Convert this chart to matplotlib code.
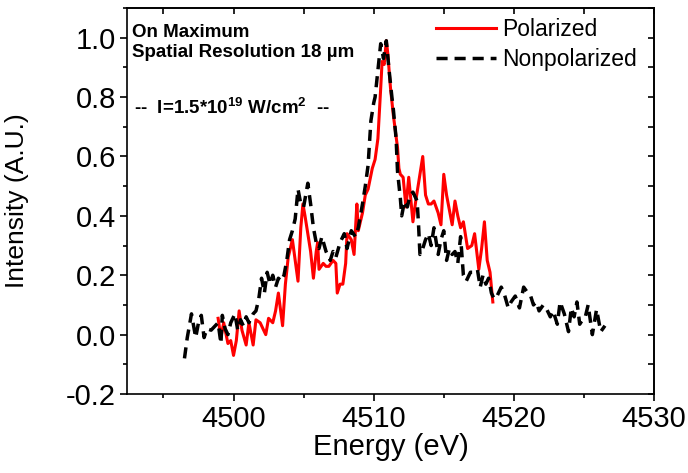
import matplotlib
matplotlib.use("Agg")
import matplotlib.pyplot as plt
from matplotlib.ticker import MultipleLocator

plt.rcParams["font.family"] = ["Liberation Sans", "DejaVu Sans"]
plt.rcParams["mathtext.fontset"] = "custom"
plt.rcParams["mathtext.rm"] = "Liberation Sans:bold"
plt.rcParams["mathtext.default"] = "rm"

# Nonpolarized spectrum (energy in eV, normalized intensity)
nonpol_energy = [
    4496.5, 4496.7, 4497.0, 4497.3, 4497.5, 4497.7, 4497.9, 4498.1, 4498.4, 4498.7,
    4498.9, 4499.1, 4499.2, 4499.4, 4499.6, 4499.8, 4500.1, 4500.3, 4500.5, 4500.7,
    4500.9, 4501.1, 4501.4, 4501.6, 4501.8, 4502.0, 4502.2, 4502.4, 4502.6, 4502.8,
    4503.0, 4503.2, 4503.4, 4503.6, 4503.8, 4504.0, 4504.2, 4504.4, 4504.6, 4504.8,
    4505.0, 4505.3, 4505.5, 4505.7, 4505.9, 4506.1, 4506.3, 4506.6, 4506.9, 4507.1,
    4507.3, 4507.6, 4507.9, 4508.1, 4508.4, 4508.7, 4508.9, 4509.2, 4509.4, 4509.6,
    4509.8, 4510.0, 4510.1, 4510.3, 4510.5, 4510.7, 4510.9, 4511.1, 4511.3, 4511.4,
    4511.6, 4511.7, 4511.9, 4512.0, 4512.2, 4512.4, 4512.6, 4512.8, 4513.0, 4513.1,
    4513.2, 4513.3, 4513.5, 4513.7, 4513.9, 4514.1, 4514.3, 4514.5, 4514.6, 4514.8,
    4515.0, 4515.2, 4515.4, 4515.6, 4515.8, 4516.0, 4516.2, 4516.4, 4516.6, 4516.9,
    4517.1, 4517.4, 4517.6, 4517.8, 4518.0, 4518.2, 4518.4, 4518.6, 4518.8, 4519.1,
    4519.3, 4519.6, 4519.8, 4520.1, 4520.4, 4520.7, 4521.0, 4521.2, 4521.4, 4521.6,
    4521.8, 4522.1, 4522.3, 4522.6, 4522.8, 4523.1, 4523.3, 4523.6, 4523.9, 4524.1,
    4524.3, 4524.5, 4524.7, 4524.9, 4525.1, 4525.3, 4525.6, 4525.9, 4526.2, 4526.5,
]
nonpol_intensity = [
    -0.08, -0.01, 0.07, -0.01, 0.04, 0.065, -0.01, 0.02, 0.015, 0.03,
    0.04, -0.03, 0.065, 0.02, 0.0, 0.04, 0.07, 0.015, 0.05, 0.03,
    0.06, 0.04, 0.07, 0.08, 0.12, 0.19, 0.14, 0.21, 0.17, 0.20,
    0.16, 0.19, 0.18, 0.20, 0.25, 0.32, 0.35, 0.39, 0.49, 0.44,
    0.43, 0.51, 0.44, 0.36, 0.31, 0.29, 0.33, 0.28, 0.25, 0.28,
    0.26, 0.31, 0.34, 0.29, 0.35, 0.33, 0.36, 0.44, 0.50, 0.57,
    0.72, 0.78, 0.80, 0.89, 0.98, 0.93, 0.99, 0.89, 0.80, 0.76,
    0.66, 0.55, 0.46, 0.40, 0.45, 0.43, 0.47, 0.48, 0.46, 0.45,
    0.37, 0.27, 0.29, 0.32, 0.34, 0.30, 0.36, 0.30, 0.27, 0.32,
    0.35, 0.25, 0.29, 0.27, 0.28, 0.24, 0.33, 0.20, 0.18, 0.21,
    0.21, 0.22, 0.16, 0.20, 0.17, 0.19, 0.14, 0.12, 0.13, 0.16,
    0.14, 0.09, 0.11, 0.13, 0.09, 0.16, 0.14, 0.13, 0.10, 0.11,
    0.08, 0.10, 0.09, 0.06, 0.08, 0.035, 0.11, 0.07, 0.01, 0.09,
    0.06, 0.11, 0.035, 0.05, 0.06, 0.10, 0.00, 0.085, 0.01, 0.03,
]

# Polarized spectrum
pol_energy = [
    4498.9, 4499.1, 4499.3, 4499.6, 4499.8, 4500.0, 4500.2, 4500.4, 4500.6, 4500.9,
    4501.1, 4501.4, 4501.6, 4501.9, 4502.1, 4502.3, 4502.5, 4502.8, 4503.0, 4503.2,
    4503.5, 4503.7, 4503.9, 4504.2, 4504.4, 4504.6, 4504.8, 4504.95, 4505.1, 4505.3,
    4505.5, 4505.7, 4505.9, 4506.0, 4506.1, 4506.4, 4506.6, 4506.8, 4507.1, 4507.3,
    4507.4, 4507.6, 4507.8, 4508.0, 4508.1, 4508.4, 4508.6, 4508.8, 4508.9, 4509.2,
    4509.4, 4509.6, 4509.9, 4510.1, 4510.3, 4510.5, 4510.6, 4510.75, 4510.9, 4511.0,
    4511.2, 4511.4, 4511.7, 4511.8, 4511.9, 4512.1, 4512.3, 4512.5, 4512.8, 4513.0,
    4513.2, 4513.5, 4513.7, 4513.9, 4514.1, 4514.3, 4514.6, 4514.8, 4515.0, 4515.2,
    4515.4, 4515.6, 4515.8, 4516.0, 4516.2, 4516.4, 4516.7, 4517.0, 4517.2, 4517.5,
    4517.7, 4517.9, 4518.1, 4518.3, 4518.5,
]
pol_intensity = [
    0.055, -0.01, 0.04, -0.03, -0.02, -0.07, -0.02, 0.08, 0.015, -0.035,
    0.04, -0.035, 0.05, 0.04, 0.02, 0.0, 0.055, 0.04, 0.08, 0.14,
    0.03, 0.17, 0.26, 0.32, 0.25, 0.18, 0.36, 0.44, 0.40, 0.34,
    0.28, 0.19, 0.28, 0.31, 0.22, 0.24, 0.23, 0.23, 0.25, 0.24,
    0.14, 0.17, 0.17, 0.24, 0.34, 0.32, 0.27, 0.44, 0.35, 0.41,
    0.47, 0.49, 0.56, 0.59, 0.66, 0.83, 0.92, 0.91, 0.99, 0.95,
    0.83, 0.74, 0.63, 0.56, 0.54, 0.53, 0.43, 0.53, 0.38, 0.45,
    0.51, 0.60, 0.47, 0.44, 0.44, 0.45, 0.41, 0.37, 0.54, 0.47,
    0.42, 0.37, 0.45, 0.40, 0.36, 0.38, 0.29, 0.30, 0.34, 0.22,
    0.29, 0.38, 0.25, 0.21, 0.11,
]

fig = plt.figure(figsize=(6.88, 4.73), dpi=100)
ax = fig.add_axes([0.1846, 0.167, 0.766, 0.816])

ax.plot(pol_energy, pol_intensity, color="red", lw=2.2, label="Polarized")
ax.plot(nonpol_energy, nonpol_intensity, color="black", lw=2.5,
        dashes=(3.2, 2.0), label="Nonpolarized")

ax.set_xlim(4492.4, 4530)
ax.set_ylim(-0.2, 1.1)
ax.xaxis.set_major_locator(MultipleLocator(10))
ax.xaxis.set_minor_locator(MultipleLocator(5))
ax.yaxis.set_minor_locator(MultipleLocator(0.1))
ax.tick_params(which="both", direction="out", top=False, right=False,
               labelsize=21, width=1.2)
ax.tick_params(which="major", length=5, pad=3)
ax.tick_params(which="minor", length=3)
ax.set_yticks([-0.2, 0.0, 0.2, 0.4, 0.6, 0.8, 1.0])
ax.set_yticklabels(["-0.2", "0.0", "0.2", "0.4", "0.6", "0.8", "1.0"])

# mirrored ticks pointing inward on top and right
top = ax.secondary_xaxis("top")
top.xaxis.set_major_locator(MultipleLocator(5))
top.tick_params(direction="in", length=4, width=1.2, labeltop=False)
right = ax.secondary_yaxis("right")
right.yaxis.set_major_locator(MultipleLocator(0.1))
right.tick_params(direction="in", length=4, width=1.2, labelright=False)

for s in ax.spines.values():
    s.set_linewidth(1.2)
top.spines["top"].set_linewidth(1.2)
right.spines["right"].set_linewidth(1.2)

ax.set_xlabel("Energy (eV)", fontsize=21, labelpad=0)
ax.set_ylabel("Intensity (A.U.)", fontsize=19)
ax.yaxis.set_label_coords(-0.186, 0.5)

ax.text(0.01, 0.925, "On Maximum", transform=ax.transAxes, fontsize=13.5,
        fontweight="bold", va="baseline")
ax.text(0.01, 0.873, "Spatial Resolution 18 \u00b5m", transform=ax.transAxes,
        fontsize=13.5, fontweight="bold", va="baseline")
ax.text(0.013, 0.725, "--  I=1.5*10$^{19}$ W/cm$^{2}$  --",
        transform=ax.transAxes, fontsize=13.5, fontweight="bold", va="baseline")

ax.legend(loc="upper right", bbox_to_anchor=(0.968, 0.975), frameon=False,
          borderaxespad=0, borderpad=0, fontsize=16.5, handlelength=2.6,
          handletextpad=0.3, labelspacing=0.3)

fig.savefig("out.png", dpi=100)
